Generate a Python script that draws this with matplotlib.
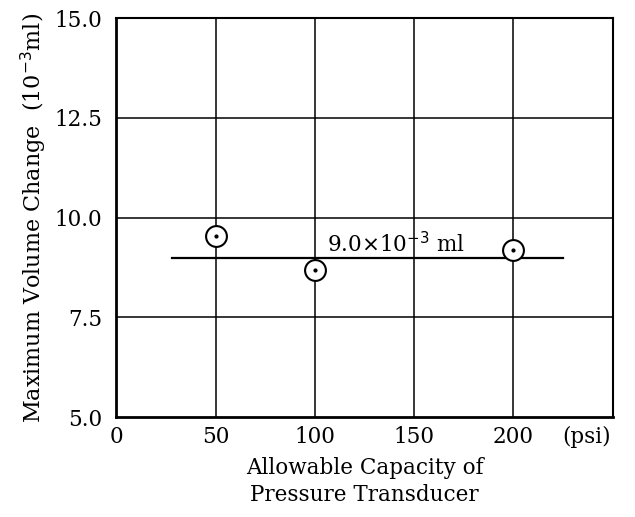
import matplotlib.pyplot as plt
import numpy as np

# data
capacity = [50, 100, 200]          # psi
max_volume = [9.55, 8.7, 9.2]      # 10^-3 ml
mean_value = 9.0
mean_span = [28, 225]
x_ticks = [0, 50, 100, 150, 200]
y_ticks = [5.0, 7.5, 10.0, 12.5, 15.0]

plt.rcParams['font.family'] = ['DejaVu Serif']
FS = 15.5

fig = plt.figure(figsize=(6.35, 5.17), dpi=100)
ax = fig.add_axes([0.183, 0.193, 0.782, 0.772])

ax.set_xlim(0, 250)
ax.set_ylim(5.0, 15.0)

# grid lines
for xv in x_ticks[1:]:
    ax.axvline(xv, color='black', lw=1.1, zorder=1)
for yv in y_ticks[1:-1]:
    ax.axhline(yv, color='black', lw=1.1, zorder=1)

# mean line
ax.plot(mean_span, [mean_value, mean_value], color='black', lw=1.6, zorder=2)

# data points: circle with dot
ax.plot(capacity, max_volume, 'o', ms=15, mfc='white', mec='black', mew=1.5, zorder=3)
ax.plot(capacity, max_volume, '.', ms=4, color='black', zorder=4)

ax.text(106, 9.32, r'9.0$\times$10$^{-3}$ ml', fontsize=FS, va='center', ha='left')

ax.set_xticks(x_ticks)
ax.set_xticklabels([str(v) for v in x_ticks])
ax.set_yticks(y_ticks)
ax.set_yticklabels(['%.1f' % v for v in y_ticks])
ax.tick_params(length=0, labelsize=FS, pad=6)
ax.tick_params(axis='y', pad=10)

ax.annotate('(psi)', xy=(237, 0), xycoords=('data', 'axes fraction'),
            xytext=(0, -6), textcoords='offset points',
            ha='center', va='top', fontsize=FS)

ax.spines['left'].set_linewidth(2.0)
ax.spines['bottom'].set_linewidth(2.0)
ax.spines['top'].set_linewidth(1.5)
ax.spines['right'].set_linewidth(1.5)

ax.set_xlabel('Allowable Capacity of\nPressure Transducer', fontsize=FS, labelpad=7,
              linespacing=1.3)
ax.set_ylabel(r'Maximum Volume Change  (10$^{-3}$ml)', fontsize=16, labelpad=4)

fig.savefig('out.png', dpi=100)
